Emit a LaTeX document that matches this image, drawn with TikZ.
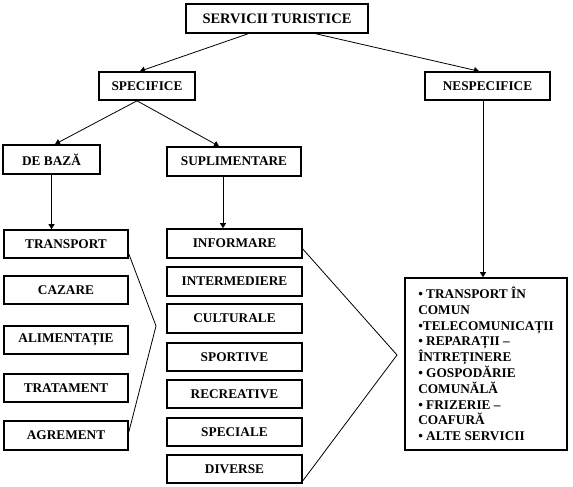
\documentclass[tikz,border=0pt]{standalone}
\usepackage{fontspec}
\setmainfont{Liberation Serif}
\usetikzlibrary{arrows.meta}
\tikzset{
  box/.style={draw, line width=1.6pt, inner sep=0pt, font=\bfseries\fontsize{13.3}{15}\selectfont, minimum height=28pt},
  conn/.style={line width=0.8pt},
  arr/.style={conn, -{Triangle[length=5pt,width=6pt]}},
}
\begin{document}
\begin{tikzpicture}[x=1pt,y=-1pt]
\useasboundingbox (0,0) rectangle (573,487);
% top levels
\node[box, minimum width=182pt, minimum height=29pt, font=\bfseries\fontsize{14.5}{16}\selectfont] (serv) at (277,18.5) {SERVICII TURISTICE};
\node[box, minimum width=96pt] (spec) at (147,86) {SPECIFICE};
\node[box, minimum width=125pt] (nesp) at (487.5,86) {NESPECIFICE};
\node[box, minimum width=97pt, minimum height=29pt] (baza) at (51.5,159.5) {DE BAZĂ};
\node[box, minimum width=134pt, minimum height=29pt] (supl) at (234,161.5) {SUPLIMENTARE};
% left column
\node[box, minimum width=124pt] (transport) at (66,244) {TRANSPORT};
\node[box, minimum width=124pt] (cazare) at (66,290) {CAZARE};
\node[box, minimum width=124pt] (alim) at (66,340) {ALIMENTAȚIE};
\node[box, minimum width=124pt] (trat) at (66,388) {TRATAMENT};
\node[box, minimum width=124pt, minimum height=29pt] (agrem) at (66,435.5) {AGREMENT};
% right column
\node[box, minimum width=135pt, minimum height=29pt] (info) at (234.5,243.5) {INFORMARE};
\node[box, minimum width=135pt, minimum height=29pt] (inter) at (234.5,281.5) {INTERMEDIERE};
\node[box, minimum width=135pt, minimum height=29pt] (cult) at (234.5,318.5) {CULTURALE};
\node[box, minimum width=135pt] (sport) at (234.5,357) {SPORTIVE};
\node[box, minimum width=135pt] (recr) at (234.5,394) {RECREATIVE};
\node[box, minimum width=135pt] (speciale) at (234.5,432) {SPECIALE};
\node[box, minimum width=135pt] (diverse) at (234.5,469) {DIVERSE};
% nespecifice list
\node[box, minimum width=162pt, minimum height=172pt, align=left, font=\bfseries\fontsize{13.3}{15.8}\selectfont] (rbox) at (486,364)
 {• TRANSPORT ÎN\\COMUN\\•TELECOMUNICAȚII\\• REPARAȚII –\\ÎNTREȚINERE\\• GOSPODĂRIE\\COMUNĂLĂ\\• FRIZERIE –\\COAFURĂ\\• ALTE SERVICII};
% arrows
\draw[arr] ([xshift=-29pt]serv.south) -- ([xshift=-7pt]spec.north);
\draw[arr] ([xshift=39pt]serv.south) -- ([xshift=-8.5pt]nesp.north);
\draw[arr] ([xshift=-10pt]spec.south) -- ([xshift=3.5pt]baza.north);
\draw[arr] ([xshift=-10pt]spec.south) -- ([xshift=-15pt]supl.north);
\draw[arr] (baza.south) -- (baza.south |- transport.north);
\draw[arr] ([xshift=-11pt]supl.south) -- ([xshift=-11pt]supl.south |- info.north);
\draw[arr] ([xshift=-4.5pt]nesp.south) -- ([xshift=-4.5pt]nesp.south |- rbox.north);
% brackets
\coordinate (lapex) at (156,326);
\coordinate (rapex) at (397,355);
\draw[conn] ([yshift=5pt]transport.south east) -- (lapex) -- ([yshift=3.5pt]agrem.east);
\draw[conn] ([yshift=-5.5pt]info.east) -- (rapex) -- ([yshift=3pt]diverse.south east);
\end{tikzpicture}
\end{document}
